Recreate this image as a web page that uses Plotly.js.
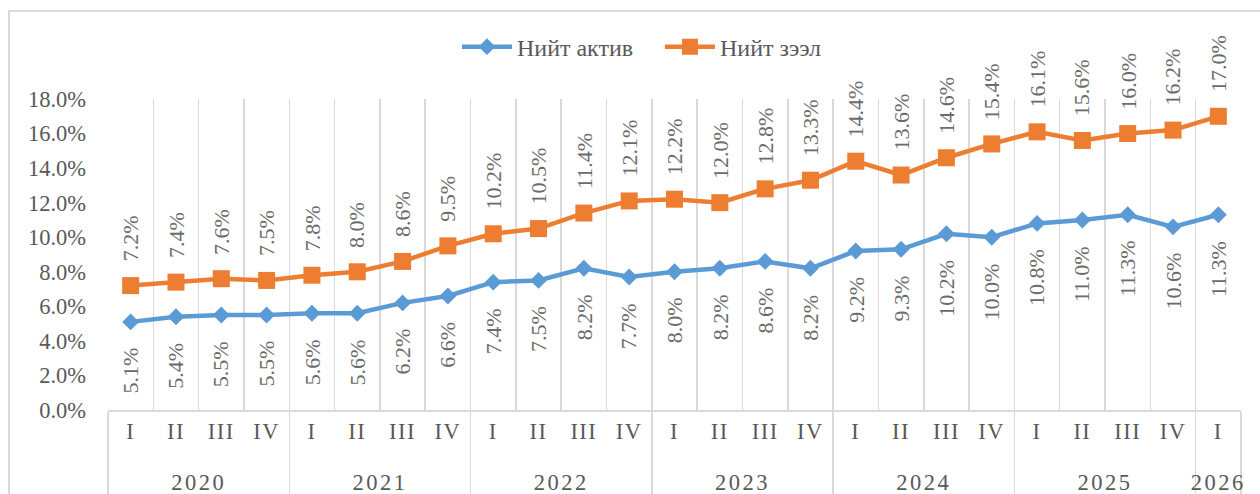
<!DOCTYPE html>
<html>
<head>
<meta charset="utf-8">
<script src="https://cdn.plot.ly/plotly-3.0.1.min.js"></script>
<style>
  html, body { margin: 0; padding: 0; background: #fff; }
  #wrap { position: relative; width: 1260px; height: 494px; overflow: hidden; }
  #frame { position: absolute; left: 8px; top: 10px; width: 1300px; height: 600px;
           border-left: 2px solid #d9d9d9; border-top: 2px solid #d9d9d9; pointer-events: none; }
  #chart { position: absolute; left: 0; top: 0; width: 1260px; height: 494px; }
  .xtick text { letter-spacing: 1.5px; }
  .xtick2 text { letter-spacing: 2.5px; }
</style>
</head>
<body>
<div id="wrap">
  <div id="chart"></div>
  <div id="frame"></div>
</div>
<script>
// Category labels
const yearLabels = ['2020','2020','2020','2020','2021','2021','2021','2021','2022','2022','2022','2022',
                    '2023','2023','2023','2023','2024','2024','2024','2024','2025','2025','2025','2025','2026'];
const quarterLabels = ['I','II','III','IV','I','II','III','IV','I','II','III','IV',
                       'I','II','III','IV','I','II','III','IV','I','II','III','IV','I'];

// Series values (%)
const niitAktiv = [5.1,5.4,5.5,5.5,5.6,5.6,6.2,6.6,7.4,7.5,8.2,7.7,8.0,8.2,8.6,8.2,9.2,9.3,10.2,10.0,10.8,11.0,11.3,10.6,11.3];
const niitZeel  = [7.2,7.4,7.6,7.5,7.8,8.0,8.6,9.5,10.2,10.5,11.4,12.1,12.2,12.0,12.8,13.3,14.4,13.6,14.6,15.4,16.1,15.6,16.0,16.2,17.0];

const seriesNames = ['Нийт актив', 'Нийт зээл'];

const FONT = 'Liberation Serif';
const BLUE = '#5B9BD5';
const ORANGE = '#ED7D31';
const GRID = '#D9D9D9';

// quarter labels get an (invisible) tiny second line so the year row sits lower, as in the original
const quarterTicks = quarterLabels.map(q => q + '<br><span style="font-size:1px">\u00A0</span>');
const xcat = [yearLabels, quarterTicks];

const traces = [
  {
    type: 'scatter', mode: 'lines+markers', name: seriesNames[0],
    x: xcat, y: niitAktiv,
    line: { color: BLUE, width: 4.5 },
    marker: { symbol: 'diamond', size: 13, color: BLUE },
    hoverinfo: 'skip'
  },
  {
    type: 'scatter', mode: 'lines+markers', name: seriesNames[1],
    x: xcat, y: niitZeel,
    line: { color: ORANGE, width: 4.5 },
    marker: { symbol: 'square', size: 17, color: ORANGE },
    hoverinfo: 'skip'
  }
];

const annotations = [];
function addLabels(vals, above) {
  vals.forEach((v, i) => {
    annotations.push({
      x: [yearLabels[i], quarterTicks[i]], y: v, xref: 'x', yref: 'y',
      text: v.toFixed(1) + '%', showarrow: false, textangle: -90,
      xanchor: 'center', yanchor: above ? 'bottom' : 'top',
      yshift: above ? 22 : -24,
      font: { family: FONT, size: 22, color: '#6b6b6b' }
    });
  });
}
addLabels(niitZeel, true);
addLabels(niitAktiv, false);

const layout = {
  width: 1260, height: 494,
  margin: { l: 108, r: 19, t: 99, b: 84, pad: 0 },
  paper_bgcolor: 'rgba(0,0,0,0)', plot_bgcolor: 'rgba(0,0,0,0)',
  font: { family: FONT, size: 22, color: '#595959' },
  showlegend: true,
  legend: {
    orientation: 'h', x: 0.308, xanchor: 'left', y: 1.167, yanchor: 'middle',
    font: { family: FONT, size: 24, color: '#595959' },
    itemwidth: 50, entrywidth: 138, traceorder: 'normal', bgcolor: 'rgba(0,0,0,0)'
  },
  xaxis: {
    type: 'multicategory',
    range: [-0.5, quarterLabels.length - 0.5],
    tickson: 'boundaries',
    showgrid: true, gridcolor: GRID, gridwidth: 1.5,
    showline: true, linecolor: GRID, linewidth: 1.5,
    ticks: '',
    showdividers: true, dividercolor: GRID, dividerwidth: 1.5,
    tickfont: { family: FONT, size: 22.5, color: '#595959' },
    fixedrange: true
  },
  yaxis: {
    range: [0, 18], dtick: 2, tick0: 0,
    tickformat: '.1f', ticksuffix: '%',
    showgrid: false, zeroline: false, showline: false, ticks: '',
    ticklabelstandoff: 21,
    tickfont: { family: FONT, size: 22.5, color: '#595959' },
    fixedrange: true
  },
  annotations: annotations
};

Plotly.newPlot('chart', traces, layout, { displayModeBar: false, staticPlot: true });
</script>
</body>
</html>
